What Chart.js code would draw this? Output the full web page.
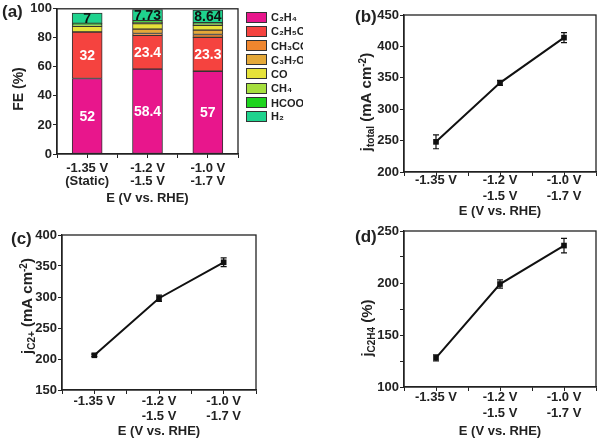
<!DOCTYPE html>
<html lang="en">
<head>
<meta charset="UTF-8">
<title>FE and current density vs potential</title>
<script src="https://cdn.jsdelivr.net/npm/chart.js"></script>
<style>
body {
    margin: 0;
    background: #fff;
    font-family: "Liberation Sans", Arial, sans-serif;
}
.wrap {
    position: relative;
    width: 600px;
    height: 441px;
    overflow: hidden;
}
canvas {
    position: absolute;
}
.tag {
    position: absolute;
    font-weight: bold;
    font-size: 17px;
    color: #222;
}
#legend {
    position: absolute;
    left: 246px;
    top: 10px;
    width: 57px;
    overflow: hidden;
    font-weight: bold;
    font-size: 11px;
    color: #222;
}
.item {
    display: flex;
    align-items: center;
    height: 14.2px;
    white-space: nowrap;
}
.box {
    width: 19px;
    height: 9px;
    border: 1px solid #333;
    margin-right: 4px;
    flex: none;
}
</style>
</head>
<body>
<div class="wrap">
    <canvas id="chartA" width="300" height="220" style="left:0;top:0"></canvas>
    <canvas id="chartB" width="300" height="220" style="left:300px;top:0"></canvas>
    <canvas id="chartC" width="300" height="221" style="left:0;top:220px"></canvas>
    <canvas id="chartD" width="300" height="221" style="left:300px;top:220px"></canvas>
    <div id="legend"></div>
    <div class="tag" style="left:2px;top:2px">(a)</div>
    <div class="tag" style="left:355px;top:7px">(b)</div>
    <div class="tag" style="left:11px;top:229px">(c)</div>
    <div class="tag" style="left:355px;top:227px">(d)</div>
</div>
<script>
// x categories (potential pairs)
const potentialsFE = [['-1.35 V', '(Static)'], ['-1.2 V', '-1.5 V'], ['-1.0 V', '-1.7 V']];
const potentials = [['-1.35 V'], ['-1.2 V', '-1.5 V'], ['-1.0 V', '-1.7 V']];

// (a) faradaic efficiency, %
const products = ['C₂H₄', 'C₂H₅OH', 'CH₃COO⁻', 'C₃H₇OH', 'CO', 'CH₄', 'HCOO⁻', 'H₂'];
const productColors = ['#E8168C', '#F5433F', '#F0862E', '#E4A838', '#E6E23A', '#A6DF3E', '#1ED41E', '#1FD38E'];
const feC2H4 = [52, 58.4, 57];
const feC2H5OH = [32, 23.4, 23.3];
const feCH3COO = [0, 1.2, 2];
const feC3H7OH = [0, 3, 3];
const feCO = [4, 3.8, 3.3];
const feCH4 = [0.8, 0.8, 0.8];
const feHCOO = [1.2, 1.2, 1.0];
const feH2 = [7, 7.73, 8.64];
const feSeries = [feC2H4, feC2H5OH, feCH3COO, feC3H7OH, feCO, feCH4, feHCOO, feH2];

// (b) total current density, mA cm-2
const jTotal = [248, 342, 414];
const jTotalErr = [11, 4, 8];
// (c) C2+ partial current density
const jC2 = [206, 298, 356];
const jC2Err = [2, 5, 7];
// (d) C2H4 partial current density
const jC2H4 = [128, 199, 236];
const jC2H4Err = [3, 4, 7];

const FONT = '"Liberation Sans", Arial, sans-serif';
const INK = '#222';

// box around the plot area
const frame = {
    id: 'frame',
    afterDraw(chart) {
        const a = chart.chartArea, ctx = chart.ctx;
        ctx.save();
        ctx.strokeStyle = INK;
        ctx.lineWidth = 1.3;
        ctx.strokeRect(a.left, a.top, a.right - a.left, a.bottom - a.top);
        ctx.restore();
    }
};

// rotated y title with sub/superscripts
const yTitle = {
    id: 'yTitle',
    afterDraw(chart, args, o) {
        if (!o.parts) return;
        const ctx = chart.ctx, size = o.size;
        const fontOf = t => 'bold ' + (t === 'n' ? size : Math.round(size * 0.68)) + 'px ' + FONT;
        let total = 0;
        o.parts.forEach(p => { ctx.font = fontOf(p[1]); total += ctx.measureText(p[0]).width; });
        ctx.save();
        ctx.translate(o.x, o.y);
        ctx.rotate(-Math.PI / 2);
        ctx.fillStyle = INK;
        let x = -total / 2;
        o.parts.forEach(p => {
            ctx.font = fontOf(p[1]);
            const dy = p[1] === 'sub' ? size * 0.2 : p[1] === 'sup' ? -size * 0.38 : 0;
            ctx.fillText(p[0], x, size * 0.36 + dy);
            x += ctx.measureText(p[0]).width;
        });
        ctx.restore();
    }
};

// vertical error bars with caps
const errorBars = {
    id: 'errorBars',
    afterDatasetsDraw(chart, args, o) {
        if (!o.err) return;
        const meta = chart.getDatasetMeta(0), ys = chart.scales.y, ctx = chart.ctx;
        const data = chart.data.datasets[0].data;
        ctx.save();
        ctx.strokeStyle = '#111';
        ctx.lineWidth = 1.2;
        meta.data.forEach((pt, i) => {
            const top = ys.getPixelForValue(data[i].y + o.err[i]);
            const bot = ys.getPixelForValue(data[i].y - o.err[i]);
            ctx.beginPath();
            ctx.moveTo(pt.x, top); ctx.lineTo(pt.x, bot);
            ctx.moveTo(pt.x - 3, top); ctx.lineTo(pt.x + 3, top);
            ctx.moveTo(pt.x - 3, bot); ctx.lineTo(pt.x + 3, bot);
            ctx.stroke();
        });
        ctx.restore();
    }
};

// numbers written inside the stacked bars
const barLabels = {
    id: 'barLabels',
    afterDatasetsDraw(chart, args, o) {
        if (!o.show) return;
        const ctx = chart.ctx;
        ctx.save();
        ctx.font = 'bold 14px ' + FONT;
        ctx.textAlign = 'center';
        ctx.textBaseline = 'middle';
        o.show.forEach(([di, color]) => {
            const data = chart.data.datasets[di].data;
            chart.getDatasetMeta(di).data.forEach((bar, i) => {
                ctx.fillStyle = color;
                ctx.fillText(String(data[i].y), bar.x, (bar.y + bar.base) / 2 + 1);
            });
        });
        ctx.restore();
    }
};

function makeOptions(p) {
    return {
        responsive: false,
        animation: false,
        layout: { padding: { top: p.top, right: p.w - p.right, bottom: 0, left: 0 } },
        plugins: {
            legend: { display: false },
            tooltip: { enabled: false },
            yTitle: { parts: p.yParts, size: p.ySize, x: p.yX, y: p.yY },
            errorBars: { err: p.err },
            barLabels: { show: p.labels }
        },
        scales: {
            x: {
                type: 'linear',
                stacked: p.stacked,
                offset: false,
                min: -0.5, max: 2.5,
                afterFit: s => { s.height = p.h - p.bottom; },
                border: { color: INK, width: 1.3 },
                grid: { offset: false, drawOnChartArea: false, drawTicks: true, tickLength: 4, color: INK },
                ticks: {
                    stepSize: 0.5, autoSkip: false, maxRotation: 0,
                    padding: p.tickPad, color: INK,
                    font: { family: FONT, size: 13, weight: 'bold', lineHeight: p.lineH + 'px' },
                    callback: v => Number.isInteger(v) ? p.xLabels[v] : ''
                },
                title: {
                    display: true, text: 'E (V vs. RHE)', color: INK,
                    font: { family: FONT, size: 13, weight: 'bold', lineHeight: '14px' },
                    padding: { top: 0, bottom: p.titlePad }
                }
            },
            y: {
                stacked: p.stacked,
                min: p.yMin, max: p.yMax,
                afterFit: s => { s.width = p.left; },
                border: { color: INK, width: 1.3 },
                grid: { drawOnChartArea: false, drawTicks: true, tickLength: 4, color: INK },
                ticks: {
                    stepSize: p.yStep / 2, padding: 1, color: INK,
                    font: { family: FONT, size: 13, weight: 'bold' },
                    callback: v => v % p.yStep === 0 ? v : ''
                }
            }
        }
    };
}

function points(arr) {
    return arr.map((y, i) => ({ x: i, y: y }));
}

// (a) stacked FE bars
new Chart(document.getElementById('chartA'), {
    type: 'bar',
    data: {
        datasets: feSeries.map((s, k) => ({
            label: products[k],
            data: points(s),
            backgroundColor: productColors[k],
            borderColor: '#333',
            borderWidth: 1,
            borderSkipped: false,
            barThickness: 30
        }))
    },
    options: makeOptions({
        w: 300, h: 220, left: 57, top: 8, right: 238, bottom: 154,
        yMin: 0, yMax: 100, yStep: 20, stacked: true, xLabels: potentialsFE,
        tickPad: 4, lineH: 13, titlePad: 15,
        yParts: [['FE (%)', 'n']], ySize: 14, yX: 18, yY: 89,
        labels: [[0, '#fff'], [1, '#fff'], [7, '#111']]
    }),
    plugins: [frame, yTitle, barLabels]
});

function lineChart(id, values, err, p) {
    p.stacked = false;
    p.err = err;
    p.xLabels = potentials;
    new Chart(document.getElementById(id), {
        type: 'line',
        data: {
            datasets: [{
                data: points(values),
                borderColor: '#111',
                borderWidth: 2,
                pointStyle: 'rect',
                pointRadius: 4,
                backgroundColor: '#111',
                pointBorderWidth: 0
            }]
        },
        options: makeOptions(p),
        plugins: [frame, yTitle, errorBars]
    });
}

// (b) total current density
lineChart('chartB', jTotal, jTotalErr, {
    w: 300, h: 220, left: 104, top: 15, right: 298, bottom: 172,
    yMin: 200, yMax: 450, yStep: 50,
    tickPad: -3, lineH: 15.5, titlePad: 2,
    yParts: [['j', 'n'], ['total', 'sub'], [' (mA cm', 'n'], ['-2', 'sup'], [')', 'n']],
    ySize: 15, yX: 66, yY: 102
});

// (c) C2+ partial current density
lineChart('chartC', jC2, jC2Err, {
    w: 300, h: 221, left: 62, top: 15, right: 256, bottom: 170,
    yMin: 150, yMax: 400, yStep: 50,
    tickPad: 0, lineH: 15, titlePad: 3,
    yParts: [['j', 'n'], ['C2+', 'sub'], [' (mA cm', 'n'], ['-2', 'sup'], [')', 'n']],
    ySize: 15, yX: 27, yY: 86
});

// (d) C2H4 partial current density
lineChart('chartD', jC2H4, jC2H4Err, {
    w: 300, h: 221, left: 104, top: 11, right: 298, bottom: 167,
    yMin: 100, yMax: 250, yStep: 50,
    tickPad: -1, lineH: 15.5, titlePad: 3,
    yParts: [['j', 'n'], ['C2H4', 'sub'], [' (%)', 'n']],
    ySize: 15, yX: 67, yY: 108
});

// legend for (a), built from the product list
const legend = document.getElementById('legend');
legend.innerHTML = products.map((name, k) =>
    '<div class="item"><span class="box" style="background:' + productColors[k] + '"></span>' + name + '</div>'
).join('');
</script>
</body>
</html>
